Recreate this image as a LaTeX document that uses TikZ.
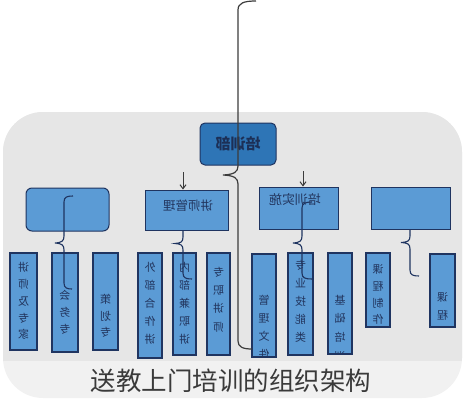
\documentclass[tikz,border=0pt]{standalone}
\usepackage{fontspec}
\setmainfont{Noto Sans CJK SC}
\usetikzlibrary{arrows.meta}
\definecolor{bggray}{HTML}{E6E6E6}
\definecolor{bgband}{HTML}{F1F1F1}
\definecolor{boxblue}{HTML}{5B9BD5}
\definecolor{topblue}{HTML}{2E75B6}
\definecolor{navy}{HTML}{1F3460}
\definecolor{txtnavy}{HTML}{22355E}
\definecolor{bracegray}{HTML}{3C3C3C}
\definecolor{capgray}{HTML}{3A3A3A}
\newcommand{\colstack}[2]{\reflectbox{\fontsize{11}{#1}\selectfont\begin{tabular}{@{}c@{}}#2\end{tabular}}}
\tikzset{
  topbox/.style={draw=navy,line width=1pt,fill=topblue,rounded corners=5pt,inner sep=0pt,text=txtnavy},
  midbox/.style={draw=navy,line width=1pt,fill=boxblue,inner sep=0pt,text=txtnavy},
  colbox/.style={draw=navy,line width=1.1pt,fill=boxblue,inner sep=0pt},
  coltext/.style={inner sep=0pt,text=txtnavy},
  bracemain/.style={draw=bracegray,line width=1.2pt},
  bracesmall/.style={draw=navy,line width=1.1pt},
  arr/.style={draw=bracegray,line width=1pt,-{Straight Barb[length=4pt,width=6pt]}}
}
\begin{document}
\begin{tikzpicture}[x=1pt,y=-1pt]
\useasboundingbox (0,0) rectangle (464,400);
% background
\fill[bgband,rounded corners=40pt] (3,112) rectangle (462,398);
\begin{scope}
\clip (0,0) rectangle (464,360);
\fill[bggray,rounded corners=40pt] (3,112) rectangle (462,398);
\end{scope}
% columns
\node[colbox,minimum width=27,minimum height=97] (c1) at (23.5,301.5) {};
\node[colbox,minimum width=26,minimum height=99] (c2) at (65,302.5) {};
\node[colbox,minimum width=25,minimum height=97] (c3) at (105.5,301.5) {};
\node[colbox,minimum width=24,minimum height=105] (c4) at (150,305.5) {};
\node[colbox,minimum width=23,minimum height=102] (c5) at (184.5,304) {};
\node[colbox,minimum width=23,minimum height=102] (c6) at (218.5,304) {};
\node[colbox,minimum width=24,minimum height=103] (c7) at (264,305.5) {};
\node[colbox,minimum width=25,minimum height=102] (c8) at (300.5,304) {};
\node[colbox,minimum width=24,minimum height=101] (c9) at (340,303.5) {};
\node[colbox,minimum width=24,minimum height=74] (c10) at (378,290) {};
\node[colbox,minimum width=25,minimum height=73] (c11) at (442.5,290.5) {};
% column texts
\node[coltext] (t1) at (23.5,302) {\colstack{16.8}{讲\\师\\及\\专\\家}};
\node[coltext] (t2) at (65,313.5) {\colstack{17}{会\\务\\专}};
\node[coltext] (t3) at (105.5,317) {\colstack{16.5}{策\\划\\专}};
\node[coltext] (t4) at (150,303.5) {\colstack{18}{外\\部\\合\\作\\讲}};
\node[coltext] (t5) at (184.5,303.5) {\colstack{18}{内\\部\\兼\\职\\讲}};
\node[coltext] (t6) at (218.5,300) {\colstack{18.3}{专\\职\\讲\\师}};
\begin{scope}
\clip (c7.south west) rectangle (c7.north east);
\node[coltext] (t7) at (264,327.5) {\colstack{18}{管\\理\\文\\件}};
\end{scope}
\node[coltext] (t8) at (300.5,301.5) {\colstack{18}{专\\业\\技\\能\\类}};
\begin{scope}
\clip (c9.south west) rectangle (c9.north east);
\node[coltext] (t9) at (340,328.5) {\colstack{18.7}{基\\础\\培\\训}};
\end{scope}
\node[coltext] (t10) at (378,295.5) {\colstack{16.7}{课\\程\\制\\作}};
\node[coltext] (t11) at (442.5,306.5) {\colstack{18}{课\\程}};
% braces hidden under box2 and box4
\draw[bracesmall] (192,208) .. controls (186,208) and (183,209) .. (183,214) -- (183,237)
  .. controls (183,242) and (181,243) .. (175,243.5) .. controls (181,244) and (183,245) .. (183,250)
  -- (183,273) .. controls (183,278) and (186,279) .. (192,279);
\draw[bracesmall] (419,208) .. controls (413,208) and (410,209) .. (410,214) -- (410,236)
  .. controls (410,241) and (408,242) .. (401,242.5) .. controls (408,243) and (410,244) .. (410,249)
  -- (410,270) .. controls (410,275) and (413,276) .. (419,276);
% second-row boxes
\node[midbox,rounded corners=6pt,minimum width=83,minimum height=43] (b1) at (67.5,209.5) {};
\node[midbox,minimum width=83,minimum height=40] (b2) at (186.5,210) {};
\node[midbox,minimum width=79,minimum height=42] (b3) at (298.5,208) {};
\node[midbox,minimum width=79,minimum height=42] (b4) at (410.5,208) {};
\node[coltext,font=\fontsize{12.5}{14}\selectfont] (l2) at (188,206) {\reflectbox{讲师管理}};
\node[coltext,font=\fontsize{13}{14}\selectfont] (l3) at (295,200) {\reflectbox{培训实施}};
% top node
\node[topbox,minimum width=76,minimum height=42] (top) at (238,144) {};
\node[coltext,font=\bfseries\fontsize{15}{16}\selectfont,text=navy!90!black] (ltop) at (238,144) {\reflectbox{培训部}};
% arrows
\coordinate (a2) at (183,172);
\coordinate (a3) at (303,171);
\draw[arr] (a2) -- (a2 |- b2.north);
\draw[arr] (a3) -- (a3 |- b3.north);
% braces over boxes
\draw[bracesmall] (73,196) .. controls (67,196) and (64,197) .. (64,202) -- (64,236)
  .. controls (64,241) and (62,242.5) .. (55,243) .. controls (62,243.5) and (64,245) .. (64,250)
  -- (64,283) .. controls (64,288) and (67,289) .. (72,289);
\draw[bracesmall] (312,202) .. controls (306,202) and (302,203) .. (302,208) -- (302,236)
  .. controls (302,241) and (300,242.5) .. (293,243) .. controls (300,243.5) and (302,245) .. (302,250)
  -- (302,273) .. controls (302,278) and (305,279) .. (312,279);
% main brace
\draw[bracemain] (256,1) .. controls (244,1) and (238,3) .. (238,10) -- (238,166)
  .. controls (238,172) and (234,174.5) .. (223,175) .. controls (234,175.5) and (238,178) .. (238,184)
  -- (238,341) .. controls (238,347) and (243,349) .. (252,349);
% caption
\node[inner sep=0pt,text=capgray,font=\fontsize{25.5}{28}\selectfont] (cap) at (231,381) {送教上门培训的组织架构};
\end{tikzpicture}
\end{document}
